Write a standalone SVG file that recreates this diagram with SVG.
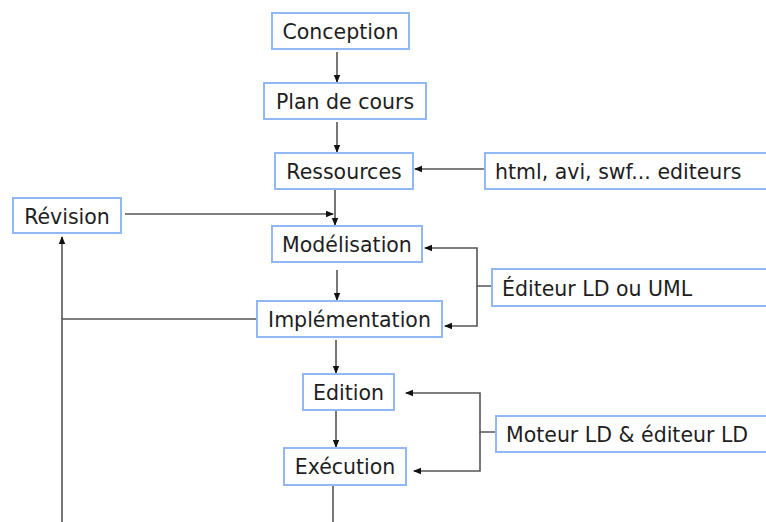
<svg xmlns="http://www.w3.org/2000/svg" width="766" height="522" viewBox="0 0 766 522">
<defs>
<marker id="ah" viewBox="0 0 8 8" refX="7" refY="4" markerWidth="8" markerHeight="8" markerUnits="userSpaceOnUse" orient="auto">
<path d="M0,0.8 L8,4 L0,7.2 Z" fill="#111"/>
</marker>
<style>
.box{fill:#fff;stroke:#8fb8f5;stroke-width:2}
.t{font-family:"DejaVu Sans",Verdana,sans-serif;font-size:20.5px;fill:#1e1e1e;text-anchor:middle}
.tl{font-family:"DejaVu Sans",Verdana,sans-serif;font-size:20.5px;fill:#1e1e1e}
.c{fill:none;stroke:#555;stroke-width:1.6}
.a{marker-end:url(#ah)}
</style>
</defs>
<rect width="766" height="522" fill="#fff"/>
<g id="connectors">
<line class="c a" x1="337" y1="52" x2="337" y2="82"/>
<line class="c a" x1="337" y1="122" x2="337" y2="152"/>
<line class="c a" x1="485" y1="169" x2="415" y2="169"/>
<line class="c a" x1="335" y1="189" x2="335" y2="225"/>
<line class="c a" x1="125" y1="214" x2="333" y2="214"/>
<line class="c a" x1="337" y1="270" x2="337" y2="300"/>
<polyline class="c a" points="492,286 477,286 477,248 425,248"/>
<polyline class="c a" points="477,286 477,326 445,326"/>
<polyline class="c" points="257,319 62,319 62,522"/>
<line class="c a" x1="62" y1="319" x2="62" y2="237"/>
<line class="c a" x1="336" y1="340" x2="336" y2="373"/>
<line class="c a" x1="336" y1="410" x2="336" y2="447"/>
<polyline class="c a" points="496,432 480,432 480,393 406,393"/>
<polyline class="c a" points="480,432 480,471 414,471"/>
<line class="c" x1="333" y1="485" x2="333" y2="522"/>
</g>
<g id="conception"><rect class="box" x="272" y="13" width="137" height="36"/><text class="t" x="340.5" y="39">Conception</text></g>
<g id="plan"><rect class="box" x="264" y="83" width="162" height="36"/><text class="t" x="345" y="109">Plan de cours</text></g>
<g id="ressources"><rect class="box" x="275" y="153" width="138" height="36"/><text class="t" x="344" y="179">Ressources</text></g>
<g id="html"><rect class="box" x="485" y="153" width="282" height="36"/><text class="tl" x="495" y="179">html, avi, swf... editeurs</text></g>
<g id="revision"><rect class="box" x="13" y="198" width="108" height="35"/><text class="t" x="67" y="223.5">Révision</text></g>
<g id="modelisation"><rect class="box" x="272" y="226" width="150" height="36"/><text class="t" x="347" y="252">Modélisation</text></g>
<g id="editeur-uml"><rect class="box" x="492" y="269" width="276" height="37"/><text class="tl" x="502" y="296">Éditeur LD ou UML</text></g>
<g id="implementation"><rect class="box" x="257" y="301" width="185" height="36"/><text class="t" x="349.5" y="327">Implémentation</text></g>
<g id="edition"><rect class="box" x="303" y="374" width="91" height="36"/><text class="t" x="348.5" y="400">Edition</text></g>
<g id="moteur"><rect class="box" x="496" y="416" width="272" height="36"/><text class="tl" x="506" y="442">Moteur LD &amp; éditeur LD</text></g>
<g id="execution"><rect class="box" x="284" y="448" width="122" height="37"/><text class="t" x="345" y="474">Exécution</text></g>
</svg>
